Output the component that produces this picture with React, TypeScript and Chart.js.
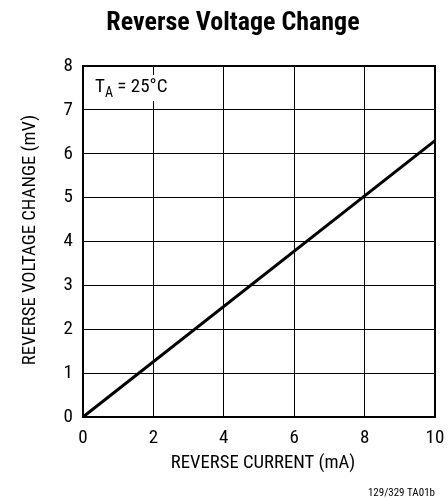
import React, { useEffect, useRef } from "react";
import { Chart, registerables } from "chart.js";

Chart.register(...registerables);

const currentMA: number[] = [0, 10];
const voltageMV: number[] = [0, 6.3];
const xTicks: number[] = [0, 2, 4, 6, 8, 10];
const yTicks: number[] = [0, 1, 2, 3, 4, 5, 6, 7, 8];
const titleText = "Reverse Voltage Change";
const xTitle = "REVERSE CURRENT (mA)";
const yTitle = "REVERSE VOLTAGE CHANGE (mV)";
const footnote = "129/329 TA01b";

const FONT = '"Liberation Sans Narrow", "Arial Narrow", "Roboto Condensed", sans-serif';

const textPlugin = {
  id: "textPlugin",
  afterDraw(chart: any) {
    const ctx = chart.ctx;
    const a = chart.chartArea;
    ctx.save();
    // frame
    ctx.strokeStyle = "#000";
    ctx.lineWidth = 2;
    ctx.strokeRect(a.left, a.top, a.right - a.left, a.bottom - a.top);
    ctx.fillStyle = "#000";
    // title
    ctx.font = `bold 26px ${FONT}`;
    ctx.textAlign = "center";
    ctx.textBaseline = "alphabetic";
    ctx.fillText(titleText, 233, 30);
    // x title
    ctx.font = `18.7px ${FONT}`;
    ctx.textBaseline = "middle";
    ctx.fillText(xTitle, 263, 463);
    // y title
    ctx.save();
    ctx.translate(30, 240);
    ctx.rotate(-Math.PI / 2);
    ctx.fillText(yTitle, 0, 0);
    ctx.restore();
    // footnote
    ctx.font = `11px ${FONT}`;
    ctx.textAlign = "right";
    ctx.fillText(footnote, a.right, 493);
    // annotation
    const x0 = a.left + 12;
    const yMid = a.top + 21;
    ctx.font = `19px ${FONT}`;
    const wT = ctx.measureText("T").width;
    ctx.font = `14px ${FONT}`;
    const wA = ctx.measureText("A").width;
    ctx.font = `19px ${FONT}`;
    const rest = " = 25°C";
    const wR = ctx.measureText(rest).width;
    ctx.fillStyle = "#fff";
    ctx.fillRect(x0 - 3, yMid - 12, wT + wA + wR + 6, 26);
    ctx.fillStyle = "#000";
    ctx.textAlign = "left";
    ctx.fillText("T", x0, yMid);
    ctx.font = `14px ${FONT}`;
    ctx.fillText("A", x0 + wT, yMid + 6);
    ctx.font = `19px ${FONT}`;
    ctx.fillText(rest, x0 + wT + wA, yMid);
    ctx.restore();
  },
};

export default function App() {
  const ref = useRef<HTMLCanvasElement>(null);
  useEffect(() => {
    if (!ref.current) return;
    const chart = new Chart(ref.current, {
      type: "line",
      data: {
        datasets: [
          {
            data: currentMA.map((x, i) => ({ x, y: voltageMV[i] })),
            borderColor: "#000",
            borderWidth: 3,
            pointRadius: 0,
            fill: false,
            tension: 0,
          },
        ],
      },
      options: {
        responsive: false,
        animation: false,
        layout: { padding: { left: 0, right: 13, top: 66, bottom: 0 } },
        plugins: { legend: { display: false }, tooltip: { enabled: false }, title: { display: false } },
        scales: {
          x: {
            type: "linear",
            min: 0,
            max: 10,
            afterBuildTicks: (s: any) => {
              s.ticks = xTicks.map((v) => ({ value: v }));
            },
            afterFit: (s: any) => {
              s.height = 81;
              s.paddingLeft = 0;
              s.paddingRight = 0;
            },
            grid: { color: "#000", lineWidth: 1, drawTicks: false },
            border: { color: "#000", width: 2 },
            ticks: {
              color: "#000",
              font: { family: FONT, size: 19 },
              padding: 10,
              maxRotation: 0,
            },
          },
          y: {
            type: "linear",
            min: 0,
            max: 8,
            afterBuildTicks: (s: any) => {
              s.ticks = yTicks.map((v) => ({ value: v }));
            },
            afterFit: (s: any) => {
              s.width = 83;
              s.paddingTop = 0;
              s.paddingBottom = 0;
            },
            grid: { color: "#000", lineWidth: 1, drawTicks: false },
            border: { color: "#000", width: 2 },
            ticks: {
              color: "#000",
              font: { family: FONT, size: 19 },
              padding: 10,
            },
          },
        },
      },
      plugins: [textPlugin],
    });
    return () => chart.destroy();
  }, []);
  return (
    <div style={{ position: "fixed", left: 0, top: 0, width: 448, height: 498, background: "#fff" }}>
      <canvas ref={ref} width={448} height={498} style={{ display: "block", width: 448, height: 498 }} />
    </div>
  );
}
